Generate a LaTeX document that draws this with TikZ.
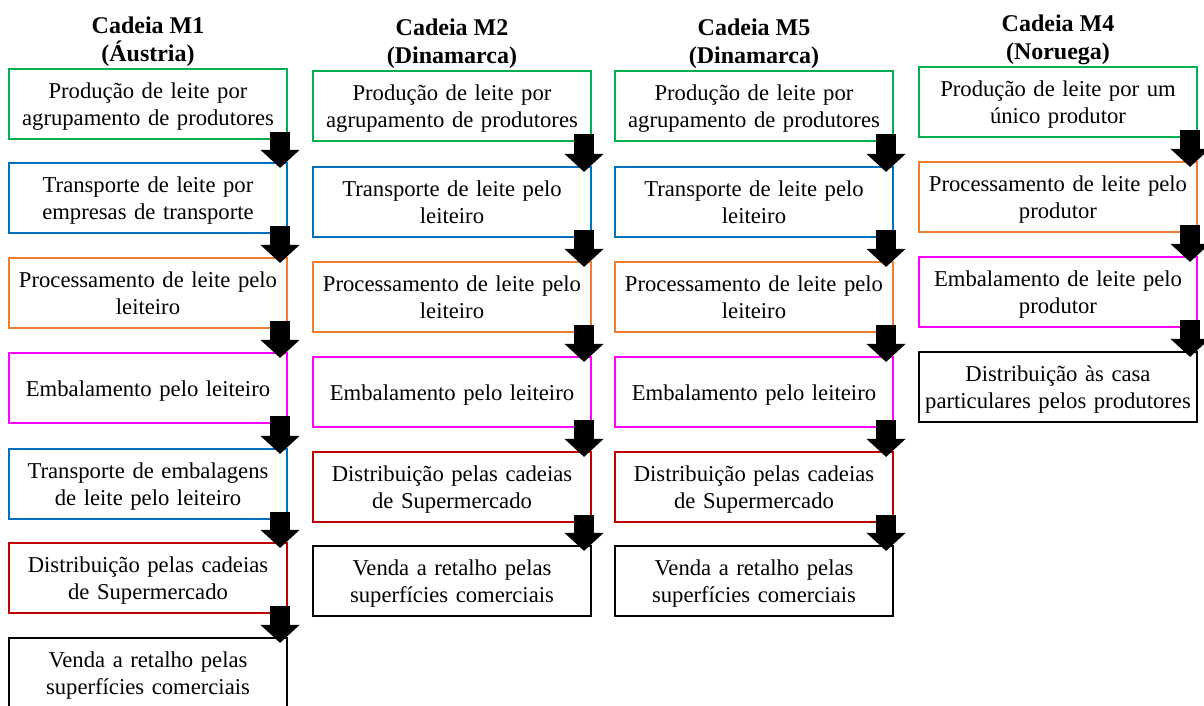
\documentclass[tikz,border=0pt]{standalone}
\usepackage{fontspec}
\setmainfont{Liberation Serif}
\usetikzlibrary{arrows.meta,calc}
\definecolor{prodgreen}{RGB}{0,176,80}
\definecolor{transblue}{RGB}{0,112,192}
\definecolor{procorange}{RGB}{237,125,49}
\definecolor{packpink}{RGB}{255,0,255}
\definecolor{distred}{RGB}{192,0,0}
\tikzset{
  stage/.style={draw=#1, line width=1.6pt, minimum width=208.5pt, minimum height=52.5pt,
    text width=204pt, align=center, inner sep=0pt, font=\fontsize{17}{20.25}\selectfont,
    execute at begin node={\rule{0pt}{18.7pt}}, execute at end node=\strut},
  chainlabel/.style={align=center, inner sep=0pt, font=\fontsize{18}{21}\selectfont\bfseries},
  flow/.style={line width=15pt, -{Triangle[width=28.5pt,length=13.5pt]}}
}
\begin{document}
\begin{tikzpicture}[x=0.75pt, y=-0.75pt]
    \useasboundingbox (0,0) rectangle (1204,706);
    % Cadeia M1
    \node[chainlabel] (m1) at (148,42) {Cadeia M1\\(Áustria)};
    \node[stage=prodgreen] (m1a) at (148,104) {Produção de leite por\\agrupamento de produtores};
    \node[stage=transblue] (m1b) at (148,198) {Transporte de leite por\\empresas de transporte};
    \node[stage=procorange] (m1c) at (148,293) {Processamento de leite pelo\\leiteiro};
    \node[stage=packpink] (m1d) at (148,388) {Embalamento pelo leiteiro};
    \node[stage=transblue] (m1e) at (148,484) {Transporte de embalagens\\de leite pelo leiteiro};
    \node[stage=distred] (m1f) at (148,578) {Distribuição pelas cadeias\\de Supermercado};
    \node[stage=black] (m1g) at (148,673) {Venda a retalho pelas\\superfícies comerciais};
    % Cadeia M2
    \node[chainlabel] (m2) at (452,44) {Cadeia M2\\(Dinamarca)};
    \node[stage=prodgreen] (m2a) at (452,106) {Produção de leite por\\agrupamento de produtores};
    \node[stage=transblue] (m2b) at (452,202) {Transporte de leite pelo\\leiteiro};
    \node[stage=procorange] (m2c) at (452,297) {Processamento de leite pelo\\leiteiro};
    \node[stage=packpink] (m2d) at (452,392) {Embalamento pelo leiteiro};
    \node[stage=distred] (m2e) at (452,487) {Distribuição pelas cadeias\\de Supermercado};
    \node[stage=black] (m2f) at (452,581) {Venda a retalho pelas\\superfícies comerciais};
    % Cadeia M5
    \node[chainlabel] (m5) at (754,44) {Cadeia M5\\(Dinamarca)};
    \node[stage=prodgreen] (m5a) at (754,106) {Produção de leite por\\agrupamento de produtores};
    \node[stage=transblue] (m5b) at (754,202) {Transporte de leite pelo\\leiteiro};
    \node[stage=procorange] (m5c) at (754,297) {Processamento de leite pelo\\leiteiro};
    \node[stage=packpink] (m5d) at (754,392) {Embalamento pelo leiteiro};
    \node[stage=distred] (m5e) at (754,487) {Distribuição pelas cadeias\\de Supermercado};
    \node[stage=black] (m5f) at (754,581) {Venda a retalho pelas\\superfícies comerciais};
    % Cadeia M4
    \node[chainlabel] (m4) at (1058,40) {Cadeia M4\\(Noruega)};
    \node[stage=prodgreen] (m4a) at (1058,102) {Produção de leite por um\\único produtor};
    \node[stage=procorange] (m4b) at (1058,197) {Processamento de leite pelo\\produtor};
    \node[stage=packpink] (m4c) at (1058,292) {Embalamento de leite pelo\\produtor};
    \node[stage=black] (m4d) at (1058,387) {Distribuição às casa\\particulares pelos produtores};
    % block arrows
    \draw[flow] ($(m1a.south east)+(-8,-8)$) -- ($(m1b.north east)+(-8,6)$);
    \draw[flow] ($(m1b.south east)+(-8,-8)$) -- ($(m1c.north east)+(-8,6)$);
    \draw[flow] ($(m1c.south east)+(-8,-8)$) -- ($(m1d.north east)+(-8,6)$);
    \draw[flow] ($(m1d.south east)+(-8,-8)$) -- ($(m1e.north east)+(-8,6)$);
    \draw[flow] ($(m1e.south east)+(-8,-8)$) -- ($(m1f.north east)+(-8,6)$);
    \draw[flow] ($(m1f.south east)+(-8,-8)$) -- ($(m1g.north east)+(-8,6)$);
    \draw[flow] ($(m2a.south east)+(-8,-8)$) -- ($(m2b.north east)+(-8,6)$);
    \draw[flow] ($(m2b.south east)+(-8,-8)$) -- ($(m2c.north east)+(-8,6)$);
    \draw[flow] ($(m2c.south east)+(-8,-8)$) -- ($(m2d.north east)+(-8,6)$);
    \draw[flow] ($(m2d.south east)+(-8,-8)$) -- ($(m2e.north east)+(-8,6)$);
    \draw[flow] ($(m2e.south east)+(-8,-8)$) -- ($(m2f.north east)+(-8,6)$);
    \draw[flow] ($(m5a.south east)+(-8,-8)$) -- ($(m5b.north east)+(-8,6)$);
    \draw[flow] ($(m5b.south east)+(-8,-8)$) -- ($(m5c.north east)+(-8,6)$);
    \draw[flow] ($(m5c.south east)+(-8,-8)$) -- ($(m5d.north east)+(-8,6)$);
    \draw[flow] ($(m5d.south east)+(-8,-8)$) -- ($(m5e.north east)+(-8,6)$);
    \draw[flow] ($(m5e.south east)+(-8,-8)$) -- ($(m5f.north east)+(-8,6)$);
    \draw[flow] ($(m4a.south east)+(-8,-8)$) -- ($(m4b.north east)+(-8,6)$);
    \draw[flow] ($(m4b.south east)+(-8,-8)$) -- ($(m4c.north east)+(-8,6)$);
    \draw[flow] ($(m4c.south east)+(-8,-8)$) -- ($(m4d.north east)+(-8,6)$);
\end{tikzpicture}
\end{document}
